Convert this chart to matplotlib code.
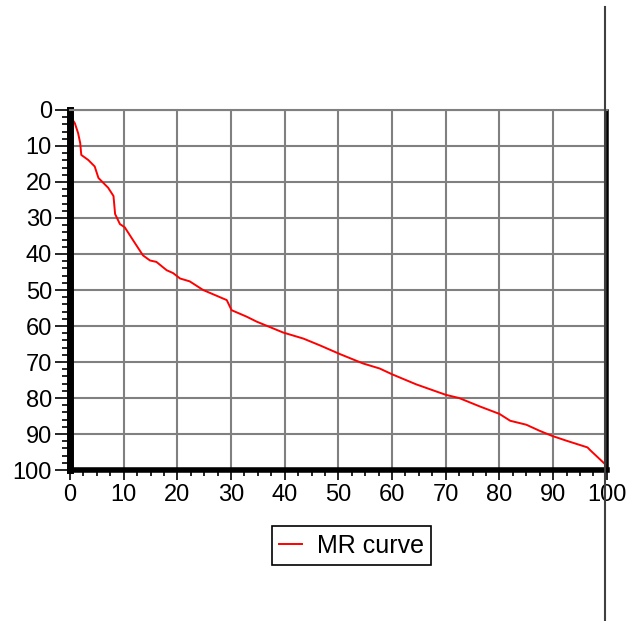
import matplotlib
matplotlib.use("Agg")
import matplotlib.pyplot as plt
from matplotlib.lines import Line2D
from matplotlib.ticker import MultipleLocator

# MR curve points
x_vals = [0, 0.3, 0.9, 1.5, 1.9, 2.1, 3.4, 4.6, 5.3, 7.1, 8.1, 8.4, 9.3, 10.2,
          11.8, 13.6, 14.9, 16.1, 18, 19.2, 20.5, 22.3, 24.8, 29.2, 30.1, 32.9,
          34.8, 39.7, 43.5, 46.6, 50.3, 54.6, 57.7, 60, 64.5, 70, 72.5, 76.3,
          80, 82, 85, 87.5, 89.8, 92.4, 96.4, 97, 100]
y_vals = [0, 2.3, 3.7, 6.4, 9.2, 12.5, 13.9, 15.7, 18.9, 21.6, 23.9, 28.9, 31.7,
          32.6, 36.3, 40.4, 41.8, 42.2, 44.5, 45.3, 46.8, 47.6, 50, 52.8, 55.6,
          57.4, 58.8, 61.8, 63.5, 65.4, 67.8, 70.4, 71.8, 73.4, 76.2, 79.1, 80,
          82.3, 84.4, 86.3, 87.4, 89.1, 90.5, 91.8, 93.7, 94.6, 98.8]
ticks = list(range(0, 101, 10))

plt.rcParams['font.family'] = ['Liberation Sans', 'DejaVu Sans']

fig = plt.figure(figsize=(6.33, 6.21), dpi=100)
ax = fig.add_axes([0.1106, 0.243, 0.848, 0.580])

ax.plot(x_vals, y_vals, color='red', linewidth=1.4, label='MR curve')

ax.set_xlim(0, 100)
ax.set_ylim(100, 0)
ax.set_xticks(ticks)
ax.set_yticks(ticks)
ax.xaxis.set_minor_locator(MultipleLocator(2.5))
ax.yaxis.set_minor_locator(MultipleLocator(2))
ax.tick_params(axis='both', which='major', labelsize=17, color='black', width=1.2)
ax.tick_params(axis='y', which='major', length=11, pad=2)
ax.tick_params(axis='y', which='minor', length=6, width=1.2)
ax.tick_params(axis='x', which='major', length=7, pad=3)
ax.tick_params(axis='x', which='minor', length=4, width=1.2)

ax.grid(True, which='major', color='#808080', linewidth=1.5)
ax.set_axisbelow(True)

ax.spines['left'].set_linewidth(5)
ax.spines['bottom'].set_linewidth(4)
ax.spines['top'].set_color('#808080')
ax.spines['top'].set_linewidth(1.5)
ax.spines['right'].set_linewidth(1.8)

# vertical divider on the right side of the image
fig.add_artist(Line2D([605 / 633, 605 / 633], [0, 1 - 7 / 621],
                      color='#404040', linewidth=1.5))

leg = fig.legend(loc='center', bbox_to_anchor=(0.555, 0.121), fontsize=18,
                 fancybox=False, edgecolor='black', framealpha=1,
                 handlelength=0.9, handletextpad=0.6, borderpad=0.3)
leg.get_frame().set_linewidth(1.2)

fig.savefig('out.png', dpi=100)
